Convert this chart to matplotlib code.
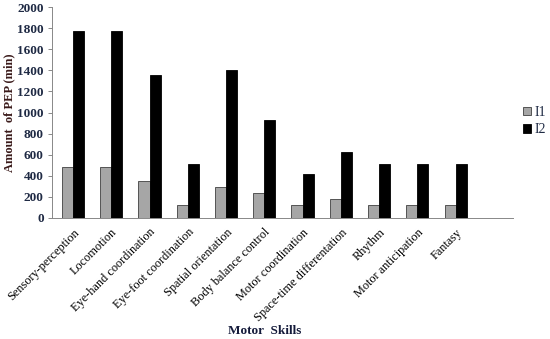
import matplotlib
matplotlib.use("Agg")
import matplotlib.pyplot as plt
import numpy as np

categories = ["Sensory-perception", "Locomotion", "Eye-hand coordination",
              "Eye-foot coordination", "Spatial orientation", "Body balance control",
              "Motor coordination", "Space-time differentation", "Rhythm",
              "Motor anticipation", "Fantasy"]
i1 = [480, 480, 355, 120, 295, 235, 120, 180, 120, 120, 120]
i2 = [1770, 1770, 1355, 510, 1400, 930, 415, 625, 510, 510, 510]
yticks = list(range(0, 2001, 200))

plt.rcParams['font.family'] = ['Liberation Serif', 'DejaVu Serif']
fig = plt.figure(figsize=(5.5, 3.39), dpi=100)
ax = fig.add_axes([52/550, 1-218/339, (513-52)/550, (218-7)/339])

x = np.arange(len(categories))
w = 0.29
ax.bar(x - w/2, i1, width=w, color='#a6a6a6', edgecolor='#404040', linewidth=0.6, label='I1')
ax.bar(x + w/2, i2, width=w, color='black', edgecolor='black', linewidth=0.6, label='I2')

ax.set_xlim(-0.55, 11.5)
ax.set_ylim(0, 2000)
ax.set_yticks(yticks)
ax.set_yticklabels([str(v) for v in yticks], fontsize=9.5, color='#1f2a44', fontweight='bold')
ax.set_xticks(x)
ax.set_xticklabels(categories, rotation=45, ha='right', rotation_mode='anchor', fontsize=8.8)
ax.tick_params(axis='x', length=0, pad=6)
ax.tick_params(axis='y', length=3, color='#888888', width=0.7, pad=3)
for s in ['top', 'right']:
    ax.spines[s].set_visible(False)
ax.spines['left'].set_color('#888888')
ax.spines['bottom'].set_color('#888888')
ax.spines['left'].set_linewidth(0.7)
ax.spines['bottom'].set_linewidth(0.7)

ax.set_ylabel('Amount  of PEP (min)', fontsize=9, fontweight='bold', color='#3a1a1a')
ax.yaxis.set_label_coords(-0.08, 0.5)
fig.text(265/550, 1-331/339, 'Motor  Skills', ha='center', va='center', fontsize=9.5,
         fontweight='bold', color='#141a3a')

leg = fig.legend(loc='center left', bbox_to_anchor=(516/550, 1-121/339), frameon=False,
                 fontsize=10, handlelength=0.6, handleheight=0.6, handletextpad=0.2,
                 labelspacing=0.3, borderpad=0)
for t in leg.get_texts():
    t.set_color('#1f2a44')

fig.savefig('out.png', dpi=100)
